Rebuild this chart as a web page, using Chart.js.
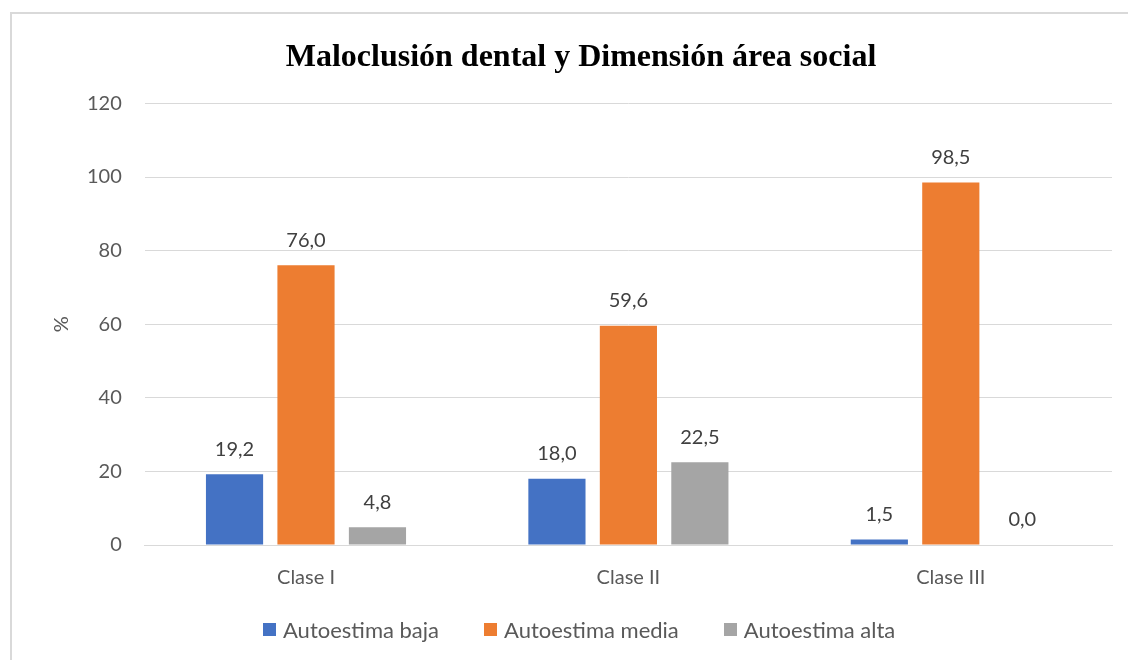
<!DOCTYPE html>
<html>
<head>
<meta charset="utf-8">
<script src="https://cdn.jsdelivr.net/npm/chart.js@4.4.1/dist/chart.umd.min.js"></script>
<style>
  html, body { margin: 0; padding: 0; background: #fff; }
  #wrap { width: 1128px; height: 660px; position: relative; }
  #legend { position: absolute; left: 263px; top: 614px; height: 30px; display: flex; align-items: center;
            font-family: Lato, "Open Sans", sans-serif; font-size: 22px; color: #595959; }
  #legend span.item { display: flex; align-items: center; margin-right: 45px; white-space: nowrap; }
  #legend span.box { display: inline-block; width: 13px; height: 13px; margin-right: 7px; }
</style>
</head>
<body>
<div id="wrap"><canvas id="barChartCanvas"></canvas><div id="legend"></div></div>
<script>
let categories = ['Clase I', 'Clase II', 'Clase III'];
let seriesNames = ['Autoestima baja', 'Autoestima media', 'Autoestima alta'];
let baja = [19.2, 18.0, 1.5];
let media = [76.0, 59.6, 98.5];
let alta = [4.8, 22.5, 0.0];
let yTicks = [0, 20, 40, 60, 80, 100, 120];

let colors = ['#4472C4', '#ED7D31', '#A5A5A5'];
let textFont = 'Lato, "Open Sans", sans-serif';

// border round the chart, like the copied office frame
let framePlugin = {
    id: 'frame',
    beforeDraw: function (chart) {
        let ctx = chart.ctx;
        ctx.save();
        ctx.fillStyle = '#fff';
        ctx.fillRect(0, 0, chart.width, chart.height);
        ctx.strokeStyle = '#d9d9d9';
        ctx.lineWidth = 2;
        ctx.strokeRect(11, 13, chart.width + 20, chart.height + 20);
        ctx.restore();
    }
};

// value labels above each bar
let valueLabels = {
    id: 'valueLabels',
    afterDatasetsDraw: function (chart) {
        let ctx = chart.ctx;
        ctx.save();
        ctx.font = '20px ' + textFont;
        ctx.fillStyle = '#404040';
        ctx.textAlign = 'center';
        ctx.textBaseline = 'middle';
        chart.data.datasets.forEach(function (ds, i) {
            chart.getDatasetMeta(i).data.forEach(function (bar, j) {
                let txt = ds.data[j].toFixed(1).replace('.', ',');
                ctx.fillText(txt, bar.x, bar.y - 25);
            });
        });
        ctx.restore();
    }
};

let customLegend = function (chart) {
    let html = '';
    chart.data.datasets.forEach(function (ds) {
        html += '<span class="item"><span class="box" style="background-color: ' + ds.backgroundColor + '"></span>' + ds.label + '</span>';
    });
    document.getElementById('legend').innerHTML = html;
};

let barChartDraw = function () {
    let ctx = document.getElementById('barChartCanvas').getContext('2d');

    window.barChart = new Chart(ctx, {
        type: 'bar',
        data: {
            labels: categories,
            datasets: [
                { label: seriesNames[0], data: baja, backgroundColor: colors[0] },
                { label: seriesNames[1], data: media, backgroundColor: colors[1] },
                { label: seriesNames[2], data: alta, backgroundColor: colors[2] }
            ]
        },
        options: {
            responsive: true,
            maintainAspectRatio: false,
            animation: false,
            datasets: {
                bar: { categoryPercentage: 0.665, barPercentage: 0.8 }
            },
            layout: {
                padding: { left: 50, right: 16, top: 39, bottom: 49 }
            },
            plugins: {
                title: {
                    display: true,
                    text: 'Maloclusión dental y Dimensión área social',
                    font: { family: '"Liberation Serif", "Times New Roman", serif', size: 32, weight: 'bold' },
                    color: '#000',
                    padding: { top: 0, bottom: 26 }
                },
                legend: { display: false },
                tooltip: { enabled: false }
            },
            scales: {
                x: {
                    grid: { display: false, drawTicks: false },
                    border: { display: true, color: '#d9d9d9' },
                    ticks: {
                        color: '#595959',
                        font: { family: textFont, size: 20 },
                        padding: 21
                    }
                },
                y: {
                    min: 0,
                    max: 120,
                    afterBuildTicks: function (axis) {
                        axis.ticks = yTicks.map(function (v) { return { value: v }; });
                    },
                    grid: { color: '#d9d9d9', drawTicks: false },
                    border: { display: false },
                    ticks: {
                        color: '#595959',
                        font: { family: textFont, size: 20 },
                        padding: 23
                    },
                    title: {
                        display: true,
                        text: '%',
                        color: '#595959',
                        font: { family: textFont, size: 20 },
                        padding: { top: 0, bottom: -10 }
                    }
                }
            }
        },
        plugins: [framePlugin, valueLabels]
    });
    customLegend(window.barChart);
};

window.onload = function () {
    barChartDraw();
};
</script>
</body>
</html>
